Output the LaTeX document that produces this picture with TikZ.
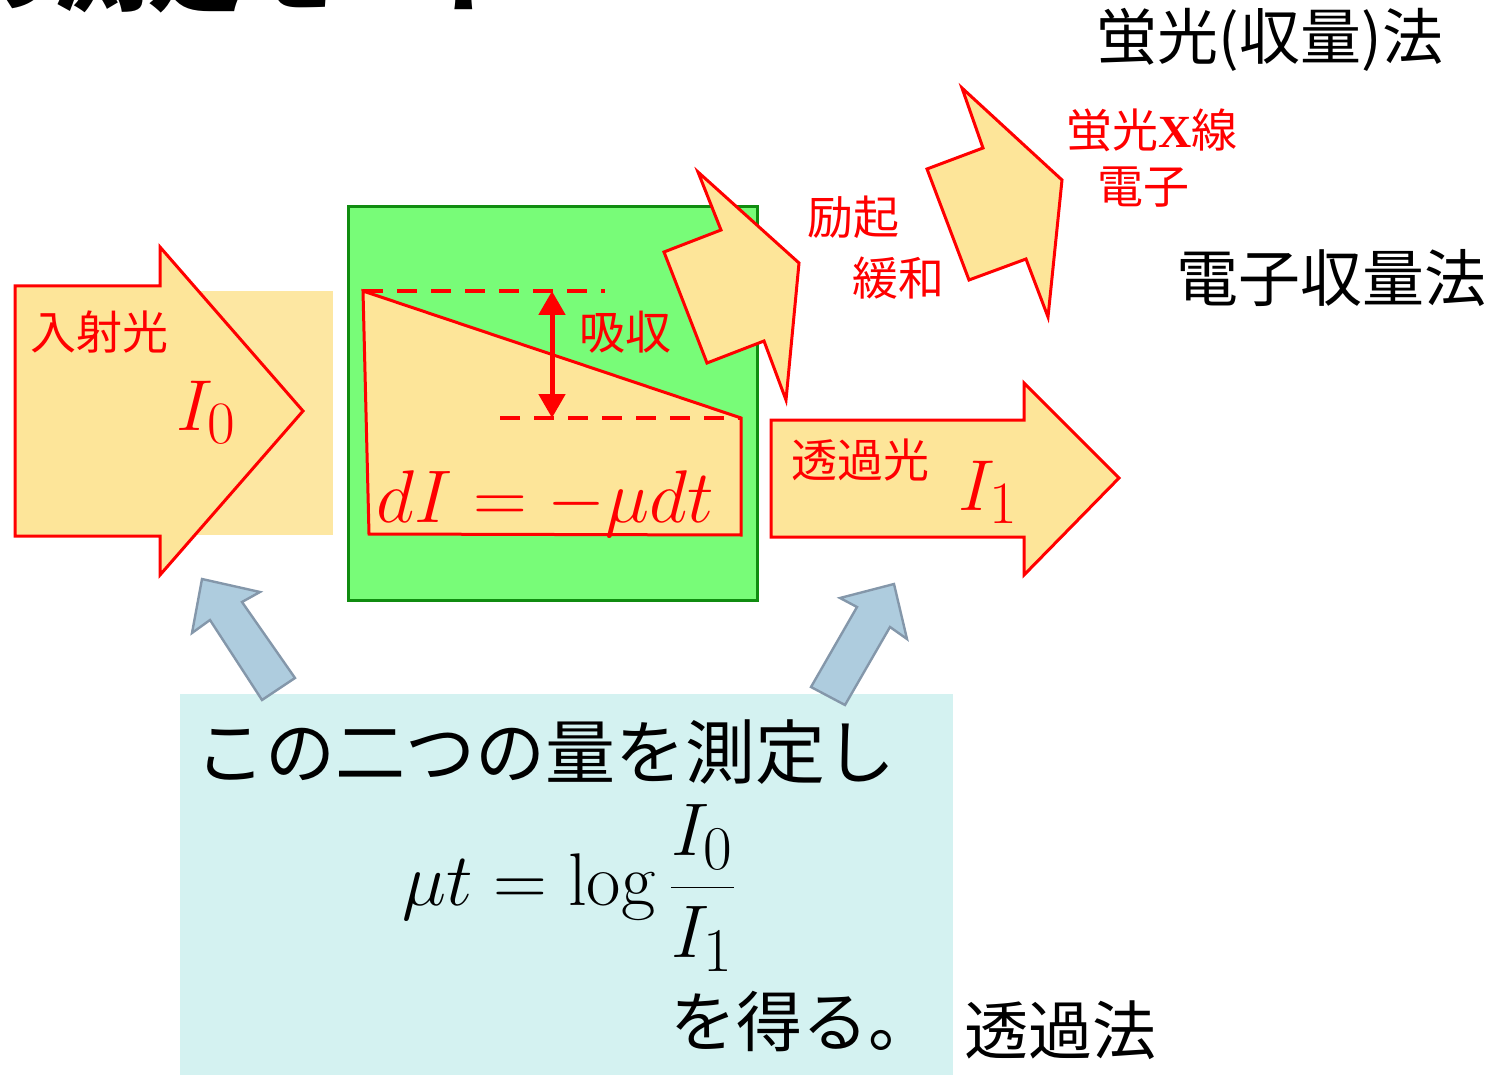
\documentclass[tikz,border=0pt]{standalone}
\usepackage{fontspec}
\newfontfamily\jp{Noto Sans CJK JP}
\newfontfamily\tms{Liberation Serif}
\usetikzlibrary{arrows.meta}
\definecolor{gold}{RGB}{253,229,153}
\definecolor{goldlt}{RGB}{253,231,162}
\definecolor{grn}{RGB}{120,252,120}
\definecolor{grnd}{RGB}{16,140,16}
\definecolor{aqua}{RGB}{212,242,241}
\definecolor{sblue}{RGB}{174,204,222}
\definecolor{sblued}{RGB}{132,151,170}
\newcommand{\bigmath}[2]{\scalebox{#1}{\fontsize{24.88}{28}\selectfont$\displaystyle #2$}}
\tikzset{
  ray/.style={fill=gold, draw=red, line width=1.5pt, line join=miter},
  ptr/.style={fill=sblue, draw=sblued, line width=1.2pt, line join=miter},
  lbl/.style={text=red, font=\jp\fontsize{23}{26}\selectfont, inner sep=0},
  ttl/.style={text=black, font=\jp\fontsize{31}{34}\selectfont, inner sep=0},
  big/.style={text=black, font=\jp\fontsize{35}{40}\selectfont, inner sep=0},
  mth/.style={inner sep=0},
  dashln/.style={draw=red, line width=2pt, dash pattern=on 10pt off 7pt},
}
\begin{document}
\begin{tikzpicture}[x=0.5pt,y=-0.5pt]
\useasboundingbox (0,0) rectangle (1505,1075);
\begin{scope}
\clip (0,0) rectangle (1505,1075);
\node[anchor=base west, inner sep=0, font=\jp\bfseries\fontsize{47}{50}\selectfont] (title) at (-40,4) {の測定モード};
\end{scope}

% incident light
\fill[goldlt] (15,291) rectangle (333,535);
\path[ray] (15,286) -- (160,286) -- (160,247) -- (303,411) -- (160,575) -- (160,536) -- (15,536) -- cycle;
\node[lbl] (inc) at (100,332) {入射光};
\node[mth, anchor=base west, text=red] (i0) at (176,430) {\bigmath{1.45}{I_0}};

% sample
\path[fill=grn, draw=grnd, line width=1.5pt] (348,207) rectangle (757,600);
\path[ray] (363,291) -- (741,418) -- (741,535) -- (369,534) -- cycle;
\draw[dashln] (363,291) -- (605,291);
\draw[dashln] (500,418) -- (741,418);
\coordinate (abt) at (552,291);
\coordinate (abb) at (552,418);
\draw[red, line width=2.5pt, {Triangle[width=13pt,length=12pt]}-{Triangle[width=13pt,length=12pt]}] (abt) -- (abb);
\node[lbl] (abs) at (625,332) {吸収};
\node[mth, anchor=base west, text=red] (eq) at (376,522) {\bigmath{1.5}{dI = -\mu dt}};

% excitation arrows
\path[ray] (698,172) -- (799,263) -- (786,400) -- (764,341) -- (707,363) -- (664,252) -- (721,230) -- cycle;
\path[ray] (962,88) -- (1062,180) -- (1048,317) -- (1026,259) -- (969,280) -- (927,169) -- (983,148) -- cycle;
\node[lbl] (exc) at (853,217) {励起};
\node[lbl] (rel) at (898,278) {緩和};
\node[lbl] (flx) at (1152,130) {蛍光{\tms\bfseries X}線};
\node[lbl] (ele) at (1143,187) {電子};
\node[ttl, font=\jp\fontsize{30.5}{34}\selectfont] (fy) at (1270,40) {蛍光(収量)法};
\node[ttl] (ey) at (1331,278) {電子収量法};

% transmitted light
\path[ray] (771,420) -- (1024,420) -- (1024,383) -- (1119,478) -- (1024,575) -- (1024,537) -- (771,537) -- cycle;
\node[lbl] (trl) at (860,460) {透過光};
\node[mth, anchor=base west, text=red] (i1) at (958,510) {\bigmath{1.45}{I_1}};

% result box
\fill[aqua] (180,694) rectangle (953,1075);
\path[ptr] (202,579) -- (260,592) -- (242,602) -- (295,678) -- (262,700) -- (210,620) -- (192,633) -- cycle;
\path[ptr] (894,584) -- (907,639) -- (890,627) -- (845,705) -- (811,687) -- (857,607) -- (840,598) -- cycle;
\node[big] (l1) at (545,752) {この二つの量を測定し};
\node[mth] (fml) at (570,888) {\bigmath{1.5}{\mu t = \log\frac{I_0}{I_1}}};
\node[big, font=\jp\fontsize{33}{38}\selectfont] (l3) at (802,1022) {を得る。};
\node[ttl, font=\jp\fontsize{32}{36}\selectfont] (tm) at (1060,1030) {透過法};
\end{tikzpicture}
\end{document}
